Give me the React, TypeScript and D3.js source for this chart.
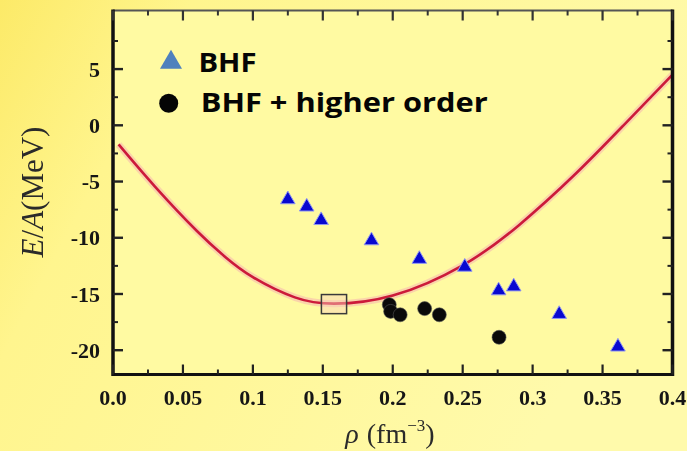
import React from "react";
import * as d3 from "d3";

// Saturation curve of nuclear matter, E/A versus density
const curveRho = [0.004, 0.03, 0.06, 0.08, 0.1, 0.13, 0.158, 0.2, 0.25, 0.29, 0.33, 0.365, 0.4];
const curveE = [-1.7, -5.45, -9.4, -11.68, -13.5, -15.3, -15.86, -15.14, -12.45, -8.9, -4.4, 0.0, 4.5];

// BHF results (triangles)
const bhfRho = [0.125, 0.1385, 0.1488, 0.1848, 0.219, 0.2515, 0.2757, 0.2865, 0.319, 0.361];
const bhfE = [-6.6, -7.25, -8.45, -10.25, -11.9, -12.6, -14.7, -14.35, -16.8, -19.7];

// BHF + higher order results (circles)
const higherRho = [0.1975, 0.1985, 0.2053, 0.2228, 0.2333, 0.276];
const higherE = [-15.95, -16.55, -16.85, -16.3, -16.85, -18.85];

// Empirical saturation box: centre and half-widths
const satRho = [0.158, 0.009];
const satE = [-15.9, 0.85];

const xTicks = [0, 0.05, 0.1, 0.15, 0.2, 0.25, 0.3, 0.35, 0.4];
const xTickLabels = ["0.0", "0.05", "0.1", "0.15", "0.2", "0.25", "0.3", "0.35", "0.4"];
const xMinor = [0.025, 0.075, 0.125, 0.175, 0.225, 0.275, 0.325, 0.375];
const yTicks = [-20, -15, -10, -5, 0, 5];
const yTickLabels = ["-20", "-15", "-10", "-5", "0", "5"];
const yMinor = [-17.5, -12.5, -7.5, -2.5, 2.5, 7.5];

const legendLabels = ["BHF", "BHF + higher order"];

const W = 687;
const H = 451;

export default function App() {
  const left = 113;
  const right = 672.5;
  const top = 10.5;
  const bottom = 374.5;

  const x = d3.scaleLinear().domain([0, 0.4]).range([left, right]);
  const y = d3.scaleLinear().domain([-22.16, 10.21]).range([bottom, top]);

  const curvePts: [number, number][] = curveRho.map((r, i) => [r, curveE[i]]);
  const line = d3
    .line<[number, number]>()
    .x((d) => x(d[0]))
    .y((d) => y(d[1]))
    .curve(d3.curveNatural);
  const curvePath = line(curvePts) || "";

  const tri = d3.symbol().type(d3.symbolTriangle).size(92)() || "";
  const legendTri = d3.symbol().type(d3.symbolTriangle).size(210)() || "";

  const serif = "'Liberation Serif', 'DejaVu Serif', serif";
  const majorLen = 10;
  const minorLen = 5;

  return (
    <div style={{ position: "fixed", left: 0, top: 0, width: W, height: H }}>
      <svg width={W} height={H} viewBox={`0 0 ${W} ${H}`} style={{ display: "block" }}>
        <defs>
          <linearGradient id="bg" x1="0" y1="0" x2="1" y2="0.35">
            <stop offset="0" stopColor="#fcea68" />
            <stop offset="0.25" stopColor="#fff58e" />
            <stop offset="1" stopColor="#fffaab" />
          </linearGradient>
          <clipPath id="plotClip">
            <rect x={left} y={top} width={right - left} height={bottom - top} />
          </clipPath>
          <filter id="soft" x="-5%" y="-5%" width="110%" height="110%">
            <feGaussianBlur stdDeviation="0.35" />
          </filter>
        </defs>
        <rect x={0} y={0} width={W} height={H} fill="url(#bg)" />
        <rect x={left} y={top} width={right - left} height={bottom - top} fill="#fffaa2" />

        {/* fitted curve with a soft halo */}
        <g clipPath="url(#plotClip)">
          <path d={curvePath} fill="none" stroke="#f4a7b4" strokeWidth={7} strokeOpacity={0.45} />
          <path d={curvePath} fill="none" stroke="#cc1a3a" strokeWidth={2.6} />
        </g>

        {/* empirical saturation region */}
        <rect
          x={x(satRho[0] - satRho[1])}
          y={y(satE[0] + satE[1])}
          width={x(satRho[0] + satRho[1]) - x(satRho[0] - satRho[1])}
          height={y(satE[0] - satE[1]) - y(satE[0] + satE[1])}
          fill="#f8d2bc"
          fillOpacity={0.45}
          stroke="#3a3a3a"
          strokeWidth={1.5}
        />

        {/* BHF triangles */}
        {bhfRho.map((r, i) => (
          <path
            key={"t" + i}
            d={tri}
            transform={`translate(${x(r)},${y(bhfE[i])})`}
            fill="#0808d0"
            stroke="#8f96f2"
            strokeWidth={1}
          />
        ))}

        {/* BHF + higher order circles */}
        {higherRho.map((r, i) => (
          <circle key={"c" + i} cx={x(r)} cy={y(higherE[i])} r={7} fill="#0a0a0a" stroke="#555" strokeWidth={0.6} />
        ))}

        {/* frame */}
        <line x1={left} x2={right} y1={top} y2={top} stroke="#555" strokeWidth={2} />
        <line x1={left} x2={right} y1={bottom} y2={bottom} stroke="#111" strokeWidth={3} />
        <line x1={left} x2={left} y1={top - 1} y2={bottom + 1.5} stroke="#111" strokeWidth={3.5} />
        <line x1={right} x2={right} y1={top - 1} y2={bottom + 1.5} stroke="#111" strokeWidth={3.5} />

        {/* x ticks, bottom and top */}
        {xTicks.map((t, i) => (
          <g key={"xt" + i}>
            <line x1={x(t)} x2={x(t)} y1={bottom} y2={bottom - majorLen} stroke="#222" strokeWidth={2.2} />
            <line x1={x(t)} x2={x(t)} y1={top} y2={top + majorLen} stroke="#333" strokeWidth={2.2} />
          </g>
        ))}
        {xMinor.map((t, i) => (
          <g key={"xm" + i}>
            <line x1={x(t)} x2={x(t)} y1={bottom} y2={bottom - minorLen} stroke="#222" strokeWidth={2} />
            <line x1={x(t)} x2={x(t)} y1={top} y2={top + minorLen} stroke="#333" strokeWidth={2} />
          </g>
        ))}

        {/* y ticks, left and right */}
        {yTicks.map((t, i) => (
          <g key={"yt" + i}>
            <line x1={left} x2={left + majorLen} y1={y(t)} y2={y(t)} stroke="#222" strokeWidth={2.4} />
            <line x1={right} x2={right - majorLen} y1={y(t)} y2={y(t)} stroke="#222" strokeWidth={2.4} />
          </g>
        ))}
        {yMinor.map((t, i) => (
          <g key={"ym" + i}>
            <line x1={left} x2={left + minorLen} y1={y(t)} y2={y(t)} stroke="#222" strokeWidth={2} />
            <line x1={right} x2={right - minorLen} y1={y(t)} y2={y(t)} stroke="#222" strokeWidth={2} />
          </g>
        ))}

        {/* tick labels */}
        <g filter="url(#soft)" fill="#151515" fontFamily={serif} fontWeight="bold" fontSize={22}>
          {xTicks.map((t, i) => (
            <text key={"xl" + i} x={x(t)} y={405} textAnchor="middle">
              {xTickLabels[i]}
            </text>
          ))}
          {yTicks.map((t, i) => (
            <text key={"yl" + i} x={100} y={y(t)} dy="0.35em" textAnchor="end">
              {yTickLabels[i]}
            </text>
          ))}
        </g>

        {/* axis titles */}
        <g filter="url(#soft)" fill="#2a2a2a" fontFamily={serif}>
          <text x={390} y={443} textAnchor="middle" fontSize={28}>
            <tspan fontStyle="italic">ρ</tspan>
            <tspan dx={8}>(fm</tspan>
            <tspan dy={-12} fontSize={17}>−3</tspan>
            <tspan dy={12}>)</tspan>
          </text>
          <text transform={`translate(43,192) rotate(-90)`} textAnchor="middle" fontSize={31}>
            <tspan fontStyle="italic">E</tspan>
            <tspan>/</tspan>
            <tspan fontStyle="italic">A</tspan>
            <tspan>(MeV)</tspan>
          </text>
        </g>

        {/* legend */}
        <path d={legendTri} transform="translate(171,62.5)" fill="#4f81bd" />
        <circle cx={168.7} cy={103.3} r={9.5} fill="#050505" />
        <g fontFamily="'Open Sans', 'Liberation Sans', sans-serif" fontWeight="bold" fontSize={27} fill="#050505">
          <text x={198.5} y={71.5} textLength={58} lengthAdjust="spacingAndGlyphs">
            {legendLabels[0]}
          </text>
          <text x={200.7} y={111.5} textLength={287} lengthAdjust="spacingAndGlyphs">
            {legendLabels[1]}
          </text>
        </g>
      </svg>
    </div>
  );
}
